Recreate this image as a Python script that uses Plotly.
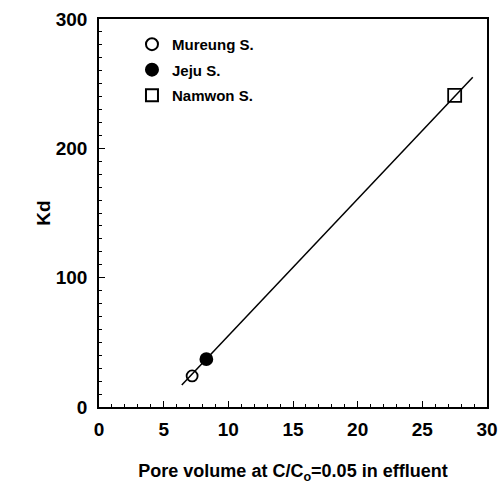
import plotly.graph_objects as go

# sample points
names = ['Mureung S.', 'Jeju S.', 'Namwon S.']
pore_volume = [7.2, 8.3, 27.5]
kd = [24, 37, 241]
symbols = ['circle-open', 'circle', 'square-open']
sizes = [11, 12, 13]

# regression line end points
fit_x = [6.4, 28.9]
fit_y = [17, 255]

FONT = 'Liberation Sans, Arial, sans-serif'

fig = go.Figure()

fig.add_trace(go.Scatter(
    x=fit_x, y=fit_y, mode='lines',
    line=dict(color='black', width=1.5),
    showlegend=False, hoverinfo='skip'
))

for i in range(len(names)):
    fig.add_trace(go.Scatter(
        x=[pore_volume[i]], y=[kd[i]],
        mode='markers', name=names[i], legendgroup=names[i],
        marker=dict(symbol=symbols[i], size=sizes[i], color='black',
                    line=dict(color='black', width=1.8))
    ))

fig.update_layout(
    width=500, height=484,
    margin=dict(l=99, r=13, t=19, b=77),
    paper_bgcolor='white', plot_bgcolor='white',
    font=dict(family=FONT, color='black', size=14),
    legend=dict(
        x=0.085, y=0.977, xanchor='left', yanchor='top',
        bgcolor='rgba(0,0,0,0)',
        font=dict(size=15, weight='bold'),
        tracegroupgap=3, itemsizing='constant'
    ),
)

fig.update_xaxes(
    range=[0, 30], tickvals=[0, 5, 10, 15, 20, 25, 30],
    ticks='inside', ticklen=6, tickwidth=1.2, tickcolor='black',
    minor=dict(dtick=1, ticks='inside', ticklen=3, tickcolor='black'),
    showline=True, linecolor='black', linewidth=1.5, mirror=True,
    showgrid=False, zeroline=False, automargin=False,
    tickfont=dict(size=19, weight='bold'), ticklabelstandoff=4,
    title=dict(text='Pore volume at C/C<sub>o</sub>=0.05 in effluent',
               font=dict(size=18, weight='bold'), standoff=30),
)

fig.update_yaxes(
    range=[0, 300], tickvals=[0, 100, 200, 300],
    ticks='inside', ticklen=6, tickwidth=1.2, tickcolor='black',
    minor=dict(dtick=10, ticks='inside', ticklen=3, tickcolor='black'),
    showline=True, linecolor='black', linewidth=1.5, mirror=True,
    showgrid=False, zeroline=False, automargin=False,
    tickfont=dict(size=19, weight='bold'), ticklabelstandoff=6,
    title=dict(text='Kd', font=dict(size=19, weight='bold'), standoff=0),
)

# drop the default page margin so the figure sits at the window corner
fig.write_html("out.html", config={'displayModeBar': False},
               post_script="document.body.style.margin='0';")
